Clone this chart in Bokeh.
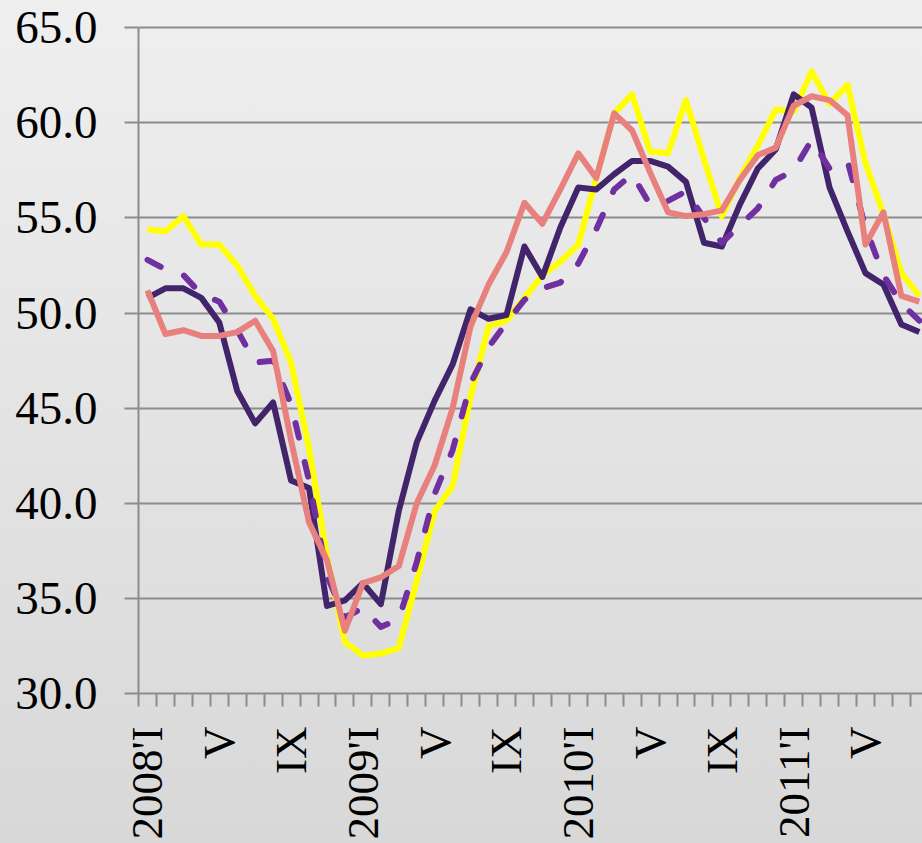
import math
from bokeh.plotting import figure
from bokeh.models import ColumnDataSource, Range1d, FixedTicker, NumeralTickFormatter
from bokeh.embed import file_html
from bokeh.resources import INLINE

# ---- data (monthly, 2008 I .. 2011 VIII) ----
months = list(range(44))
tick_pos = [0, 4, 8, 12, 16, 20, 24, 28, 32, 36, 40]
tick_labels = ["2008'I", "V", "IX", "2009'I", "V", "IX", "2010'I", "V", "IX", "2011'I", "V"]
y_ticks = [30, 35, 40, 45, 50, 55, 60, 65]

yellow = [54.4, 54.3, 55.1, 53.6, 53.6, 52.5, 50.9, 49.7, 47.4, 42.9,
          37.2, 32.7, 32.0, 32.1, 32.4, 35.9, 39.6, 40.9, 45.6, 49.3,
          49.6, 50.8, 52.0, 52.7, 53.6, 57.1, 60.5, 61.5, 58.5, 58.4,
          61.2, 58.1, 55.1, 57.1, 58.8, 60.7, 60.6, 62.7, 61.0, 62.0,
          57.9, 55.2, 52.1, 50.9]
dark = [50.8, 51.3, 51.3, 50.8, 49.5, 45.9, 44.2, 45.3, 41.2, 40.8,
        34.6, 34.9, 35.8, 34.7, 39.6, 43.2, 45.4, 47.3, 50.2, 49.7,
        49.9, 53.5, 51.9, 54.5, 56.6, 56.5, 57.3, 58.0, 58.0, 57.7,
        56.9, 53.7, 53.5, 55.7, 57.6, 58.6, 61.5, 60.8, 56.6, 54.3,
        52.1, 51.5, 49.4, 49.0]
dashed = [52.8, 52.3, 52.0, 51.0, 50.6, 49.1, 47.4, 47.5, 45.2, 41.2,
          36.2, 34.0, 34.5, 33.5, 33.9, 36.9, 40.5, 42.8, 46.3, 48.2,
          49.5, 50.7, 51.3, 51.6, 52.6, 54.4, 56.5, 57.3, 55.7, 55.9,
          56.4, 55.0, 53.7, 54.6, 55.5, 57.0, 57.5, 59.1, 57.6, 58.0,
          54.5, 52.0, 50.5, 49.6]
pink = [51.2, 48.9, 49.1, 48.8, 48.8, 49.0, 49.6, 48.0, 43.3, 39.0,
        37.0, 33.3, 35.8, 36.1, 36.7, 40.0, 42.0, 45.0, 49.3, 51.5,
        53.2, 55.8, 54.7, 56.5, 58.4, 57.1, 60.5, 59.6, 57.4, 55.3,
        55.1, 55.2, 55.4, 57.0, 58.3, 58.7, 60.9, 61.4, 61.2, 60.4,
        53.6, 55.3, 50.9, 50.6]

src = ColumnDataSource(dict(x=months, yellow=yellow, dark=dark, dashed=dashed, pink=pink))

W, H = 922, 843
left_border = 138
px_per_month = 17.95
px_per_unit = 19.03
frame_w = W - left_border

p = figure(width=W, height=H, output_backend="svg", toolbar_location=None,
           x_range=Range1d(-0.5, -0.5 + frame_w / px_per_month),
           y_range=Range1d(30, 65 + 27.3 / px_per_unit),
           min_border_left=left_border, min_border_right=0,
           min_border_top=0, min_border_bottom=150)

p.background_fill_color = None
p.border_fill_color = None
p.outline_line_color = None
p.styles = {"background": "linear-gradient(to bottom, #efefef, #d8d8d8)"}

grid_col = "#8c8c8c"
p.xgrid.visible = False
p.ygrid.ticker = FixedTicker(ticks=y_ticks)
p.ygrid.grid_line_color = grid_col
p.ygrid.grid_line_width = 2

font = "Liberation Serif"

ya = p.yaxis[0]
ya.ticker = FixedTicker(ticks=y_ticks)
ya.formatter = NumeralTickFormatter(format="0.0")
ya.bounds = (30, 65)
ya.axis_line_color = grid_col
ya.axis_line_width = 2
ya.major_tick_line_color = grid_col
ya.major_tick_line_width = 2
ya.major_tick_out = 14
ya.major_tick_in = 0
ya.minor_tick_line_color = None
ya.major_label_text_font = font
ya.major_label_text_font_size = "47px"
ya.major_label_text_color = "black"
ya.major_label_standoff = 27

xa = p.xaxis[0]
xa.ticker = FixedTicker(ticks=tick_pos, minor_ticks=[m - 0.5 for m in months] + [43.5])
xa.major_label_overrides = {t: l for t, l in zip(tick_pos, tick_labels)}
xa.axis_line_color = grid_col
xa.axis_line_width = 2
xa.major_tick_line_color = None
xa.major_tick_out = 0
xa.major_tick_in = 0
xa.minor_tick_line_color = grid_col
xa.minor_tick_line_width = 2
xa.minor_tick_out = 13
xa.minor_tick_in = 0
xa.major_label_orientation = math.pi / 2
xa.major_label_text_font = font
xa.major_label_text_font_size = "45px"
xa.major_label_text_color = "black"
xa.major_label_standoff = 20

lw = 6
p.line("x", "yellow", source=src, line_color="#ffff00", line_width=lw, line_join="round")
p.line("x", "dark", source=src, line_color="#42246b", line_width=lw, line_join="round")
p.line("x", "dashed", source=src, line_color="#7030a0", line_width=lw, line_join="round",
       line_dash="15 25", line_cap="round")
p.line("x", "pink", source=src, line_color="#e8817d", line_width=lw, line_join="round")

open("out.html", "w").write(file_html(p, INLINE))
